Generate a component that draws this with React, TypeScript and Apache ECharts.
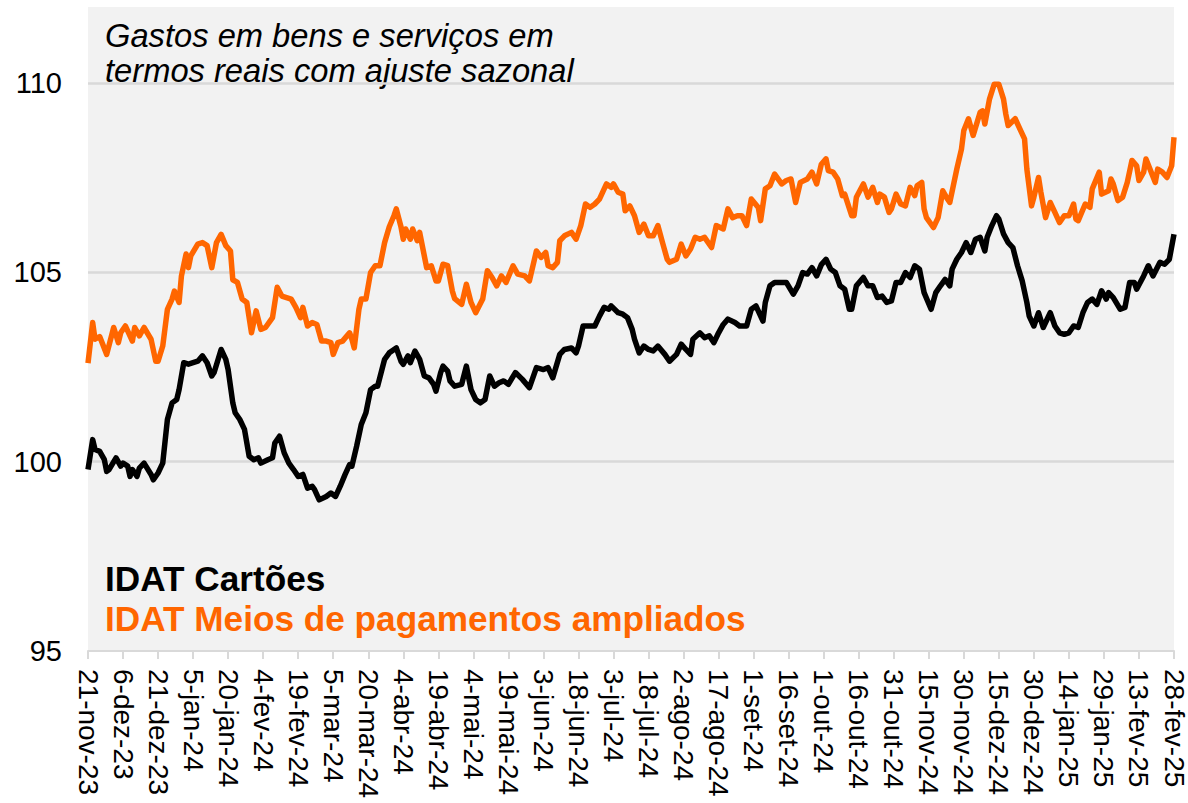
import React, { useEffect, useRef } from "react";
import * as echarts from "echarts";

const MONTHS = ["jan", "fev", "mar", "abr", "mai", "jun", "jul", "ago", "set", "out", "nov", "dez"];
const START_UTC = Date.UTC(2023, 10, 21);
const N_DAYS = 466;
const dates: string[] = Array.from({ length: N_DAYS }, (_, i) => {
  const dt = new Date(START_UTC + i * 86400000);
  return `${dt.getUTCDate()}-${MONTHS[dt.getUTCMonth()]}-${String(dt.getUTCFullYear()).slice(2)}`;
});

const TITLE_LINES = ["Gastos em bens e serviços em", "termos reais com ajuste sazonal"];
const SERIES_NAMES = ["IDAT Cartões", "IDAT Meios de pagamentos ampliados"];

// [day index from 21-nov-23, value]
const cartoes: [number, number][] = [
  [0, 99.79], [2, 100.58], [3, 100.32], [5, 100.27], [7, 100.05], [8, 99.74], [9, 99.79], [12, 100.1], [14, 99.88], [15, 99.96], [17, 99.88], [18, 99.61], [19, 99.79], [21, 99.61], [22, 99.83], [24, 99.96], [27, 99.66], [28, 99.52], [30, 99.7], [32, 99.96], [34, 101.11], [36, 101.55], [38, 101.64], [39, 101.9], [41, 102.61], [43, 102.57], [45, 102.61], [47, 102.65], [49, 102.79], [51, 102.61], [53, 102.26], [54, 102.35], [57, 102.96], [59, 102.7], [60, 102.43], [62, 101.55], [63, 101.29], [65, 101.11], [67, 100.85], [69, 100.14], [71, 100.05], [73, 100.1], [74, 99.96], [77, 100.05], [79, 100.1], [80, 100.49], [82, 100.67], [84, 100.23], [86, 99.96], [88, 99.79], [90, 99.61], [92, 99.66], [94, 99.3], [96, 99.35], [97, 99.26], [99, 98.99], [102, 99.08], [104, 99.17], [106, 99.08], [108, 99.35], [110, 99.65], [112, 99.92], [113, 99.88], [115, 100.4], [117, 100.98], [119, 101.29], [121, 101.9], [123, 101.99], [124, 101.99], [127, 102.7], [129, 102.87], [132, 103.0], [134, 102.65], [135, 102.57], [137, 102.79], [138, 102.61], [140, 102.92], [142, 102.7], [144, 102.26], [146, 102.21], [148, 102.04], [149, 101.86], [151, 102.35], [152, 102.52], [154, 102.39], [155, 102.13], [157, 101.99],
  [160, 102.04], [162, 102.52], [164, 101.9], [166, 101.64], [168, 101.55], [170, 101.64], [172, 102.26], [174, 101.99], [176, 102.08], [178, 102.13], [180, 102.04], [183, 102.35], [186, 102.17], [189, 101.95], [192, 102.48], [195, 102.43], [197, 102.48], [199, 102.21], [202, 102.83], [204, 102.96], [207, 103.0], [209, 102.87], [210, 103.05], [212, 103.58], [214, 103.58], [217, 103.58], [219, 103.84], [221, 104.07], [223, 104.02], [224, 104.11], [227, 103.93], [229, 103.89], [231, 103.8], [233, 103.49], [234, 103.23], [236, 102.87], [238, 103.05], [240, 102.96], [242, 102.92], [244, 103.05], [247, 102.83], [249, 102.65], [252, 102.83], [254, 103.1], [256, 102.96], [258, 102.83], [259, 103.23], [262, 103.4], [264, 103.27], [266, 103.32], [268, 103.14], [270, 103.4], [272, 103.62], [274, 103.76], [277, 103.67], [279, 103.58], [282, 103.58], [284, 104.02], [286, 104.11], [289, 103.71], [290, 104.2], [292, 104.64], [294, 104.73], [297, 104.73], [299, 104.73], [302, 104.42], [304, 104.64], [306, 104.99], [308, 104.95], [310, 105.12], [312, 104.9],
  [314, 105.2], [316, 105.34], [318, 105.08], [320, 104.99], [322, 104.64], [324, 104.55], [326, 104.02], [327, 104.02], [329, 104.64], [332, 104.86], [334, 104.64], [336, 104.64], [338, 104.33], [340, 104.37], [342, 104.2], [344, 104.24], [346, 104.73], [348, 104.73], [350, 104.99], [352, 104.86], [354, 105.17], [356, 105.08], [358, 104.46], [361, 104.02], [363, 104.46], [365, 104.64], [367, 104.81], [369, 104.64], [370, 105.08], [372, 105.34], [374, 105.52], [376, 105.78], [378, 105.52], [380, 105.87], [382, 105.92], [384, 105.56], [385, 105.92], [387, 106.23], [389, 106.49], [390, 106.4], [392, 106.01], [394, 105.78], [396, 105.65], [398, 105.17], [400, 104.77], [402, 104.2], [403, 103.84], [405, 103.58], [407, 103.93], [409, 103.54], [412, 103.93], [414, 103.58], [416, 103.4], [418, 103.36], [420, 103.4], [422, 103.58], [424, 103.54], [426, 103.93], [428, 104.2], [430, 104.29], [432, 104.15], [434, 104.51], [436, 104.29], [437, 104.46], [439, 104.33], [442, 104.02], [444, 104.07], [446, 104.73], [448, 104.73], [449, 104.55], [452, 104.9], [454, 105.17], [456, 104.9], [459, 105.26], [461, 105.21], [463, 105.34], [465, 106.0],
];

const ampliados: [number, number][] = [
  [0, 102.6], [2, 103.67], [3, 103.23], [5, 103.3], [8, 102.83], [11, 103.54], [13, 103.14], [14, 103.4], [16, 103.58], [19, 103.18], [20, 103.54], [22, 103.32], [24, 103.54], [27, 103.23], [29, 102.65], [30, 102.65], [32, 103.05], [34, 104.02], [36, 104.29], [37, 104.5], [39, 104.2], [40, 104.9], [42, 105.48], [43, 105.12], [44, 105.43], [47, 105.74], [49, 105.78], [51, 105.7], [53, 105.12], [55, 105.78], [57, 106.0], [59, 105.7], [61, 105.56], [62, 104.8], [64, 104.73], [66, 104.29], [68, 104.2], [70, 103.4], [72, 103.98], [74, 103.49], [76, 103.54], [79, 103.8], [81, 104.6], [83, 104.37], [85, 104.33], [87, 104.29], [89, 104.07], [91, 103.8], [92, 104.07], [94, 103.58], [96, 103.67], [98, 103.62], [100, 103.18], [102, 103.18], [104, 103.14], [105, 102.83], [107, 103.14], [109, 103.18], [112, 103.4], [113, 103.23], [114, 103.0], [116, 104.02], [117, 104.29], [119, 104.29], [121, 104.99], [123, 105.17], [125, 105.17], [127, 105.78], [129, 106.2], [131, 106.49], [132, 106.67], [134, 106.2], [135, 105.87], [136, 106.14], [138, 105.87], [139, 106.14], [141, 105.83], [142, 106.05], [144, 105.43], [145, 105.12], [147, 105.17], [149, 104.77], [150, 104.77], [152, 105.21], [154, 105.17], [156, 104.5], [157, 104.3],
  [160, 104.15], [162, 104.68], [164, 104.2], [166, 103.93], [169, 104.29], [171, 105.04], [173, 104.86], [175, 104.64], [177, 104.9], [179, 104.73], [182, 105.17], [184, 104.95], [187, 104.9], [189, 104.77], [192, 105.56], [194, 105.39], [196, 105.52], [197, 105.17], [199, 105.12], [201, 105.26], [202, 105.83], [204, 105.96], [207, 106.05], [209, 105.87], [211, 106.23], [213, 106.8], [215, 106.71], [217, 106.8], [219, 106.93], [222, 107.33], [224, 107.24], [225, 107.33], [227, 107.11], [229, 107.06], [230, 106.62], [232, 106.75], [234, 106.49], [236, 106.05], [238, 106.27], [240, 105.96], [242, 105.96], [244, 106.23], [246, 105.78], [248, 105.34], [249, 105.26], [252, 105.34], [254, 105.74], [256, 105.43], [258, 105.61], [260, 105.92], [262, 105.87], [264, 105.92], [267, 105.65], [269, 106.23], [272, 106.14], [274, 106.67], [276, 106.44], [278, 106.49], [280, 106.49], [282, 106.23], [284, 106.93], [287, 106.71], [288, 106.36], [290, 107.2], [292, 107.28], [294, 107.59], [297, 107.33], [299, 107.42], [301, 107.46], [303, 106.84], [305, 107.37], [308, 107.46], [310, 107.64], [312, 107.33],
  [314, 107.85], [316, 107.99], [317, 107.68], [319, 107.64], [321, 107.46], [323, 107.02], [324, 107.06], [327, 106.49], [328, 106.49], [329, 106.98], [332, 107.33], [334, 106.98], [336, 107.24], [338, 106.84], [339, 107.06], [341, 106.98], [343, 106.58], [344, 106.67], [346, 107.06], [348, 106.8], [350, 106.75], [352, 107.24], [354, 107.02], [355, 107.28], [357, 107.37], [358, 106.67], [359, 106.44], [362, 106.18], [364, 106.44], [366, 107.15], [368, 106.93], [369, 106.84], [372, 107.72], [374, 108.25], [375, 108.74], [377, 109.05], [379, 108.61], [382, 109.22], [383, 109.26], [384, 108.91], [386, 109.57], [388, 109.96], [390, 109.96], [392, 109.57], [393, 109.17], [394, 108.87], [397, 109.05], [399, 108.78], [401, 108.52], [402, 107.72], [404, 106.75], [405, 106.98], [407, 107.5], [408, 107.11], [410, 106.44], [412, 106.84], [414, 106.58], [416, 106.31], [418, 106.49], [420, 106.49], [422, 106.8], [423, 106.4], [424, 106.36], [427, 106.8], [429, 106.71], [430, 107.2], [433, 107.64], [434, 107.06], [437, 107.15], [438, 107.46], [439, 107.33], [441, 106.89], [443, 106.98], [445, 107.37], [447, 107.95], [449, 107.81], [450, 107.42], [452, 107.64], [453, 107.99], [455, 107.68], [457, 107.37], [458, 107.72], [460, 107.64], [462, 107.5], [464, 107.81], [465, 108.56],
];

const Y_MIN = 95;
const Y_MAX = 112;
const Y_STEP = 5;

const FONT = '"Liberation Sans", Arial, sans-serif';
const ORANGE = "#ff6600";
const GRIDLINE = "#d9d9d9";

export default function App() {
  const ref = useRef<HTMLDivElement>(null);

  useEffect(() => {
    document.body.style.margin = "0";
    if (!ref.current) return;
    const chart = echarts.init(ref.current, undefined, { renderer: "svg" });
    chart.setOption({
      animation: false,
      backgroundColor: "#ffffff",
      textStyle: { fontFamily: FONT },
      grid: {
        left: 88,
        right: 14,
        top: 7,
        bottom: 152,
        show: true,
        backgroundColor: "#f2f2f2",
        borderWidth: 0,
        containLabel: false,
      },
      xAxis: {
        type: "category",
        data: dates,
        boundaryGap: false,
        axisLine: { show: true, lineStyle: { color: GRIDLINE, width: 2 } },
        axisTick: { show: true, interval: 14, length: 8, lineStyle: { color: GRIDLINE, width: 2 } },
        axisLabel: {
          interval: 14,
          rotate: -90,
          margin: 18,
          fontSize: 28,
          color: "#000",
          fontFamily: FONT,
        },
        splitLine: { show: false },
      },
      yAxis: {
        type: "value",
        min: Y_MIN,
        max: Y_MAX,
        interval: Y_STEP,
        axisLine: { show: false },
        axisTick: { show: false },
        axisLabel: {
          fontSize: 29,
          color: "#000",
          margin: 26,
          fontFamily: FONT,
          showMaxLabel: false,
          formatter: (v: number) => (v % Y_STEP === 0 ? String(v) : ""),
        },
        splitLine: {
          show: true,
          showMinLine: false,
          showMaxLine: false,
          lineStyle: { color: GRIDLINE, width: 2.5 },
        },
      },
      series: [
        {
          name: SERIES_NAMES[1],
          type: "line",
          data: ampliados,
          showSymbol: false,
          symbol: "none",
          lineStyle: { color: ORANGE, width: 5.5, join: "round" },
          z: 3,
        },
        {
          name: SERIES_NAMES[0],
          type: "line",
          data: cartoes,
          showSymbol: false,
          symbol: "none",
          lineStyle: { color: "#000000", width: 5.5, join: "round" },
          z: 4,
        },
      ],
      graphic: [
        {
          type: "text",
          x: 105,
          y: 35,
          style: {
            text: TITLE_LINES[0],
            fontSize: 32.7,
            fontStyle: "italic",
            fontFamily: FONT,
            fill: "#000",
            align: "left",
            verticalAlign: "middle",
          },
        },
        {
          type: "text",
          x: 105,
          y: 70,
          style: {
            text: TITLE_LINES[1],
            fontSize: 32.7,
            fontStyle: "italic",
            fontFamily: FONT,
            fill: "#000",
            align: "left",
            verticalAlign: "middle",
          },
        },
        {
          type: "text",
          x: 105,
          y: 578,
          style: {
            text: SERIES_NAMES[0],
            fontSize: 35.2,
            fontWeight: "bold",
            fontFamily: FONT,
            fill: "#000",
            align: "left",
            verticalAlign: "middle",
          },
        },
        {
          type: "text",
          x: 105,
          y: 618,
          style: {
            text: SERIES_NAMES[1],
            fontSize: 35.2,
            fontWeight: "bold",
            fontFamily: FONT,
            fill: ORANGE,
            align: "left",
            verticalAlign: "middle",
          },
        },
      ],
    });
    return () => chart.dispose();
  }, []);

  return <div ref={ref} style={{ position: "fixed", left: 0, top: 0, width: 1188, height: 803 }} />;
}
